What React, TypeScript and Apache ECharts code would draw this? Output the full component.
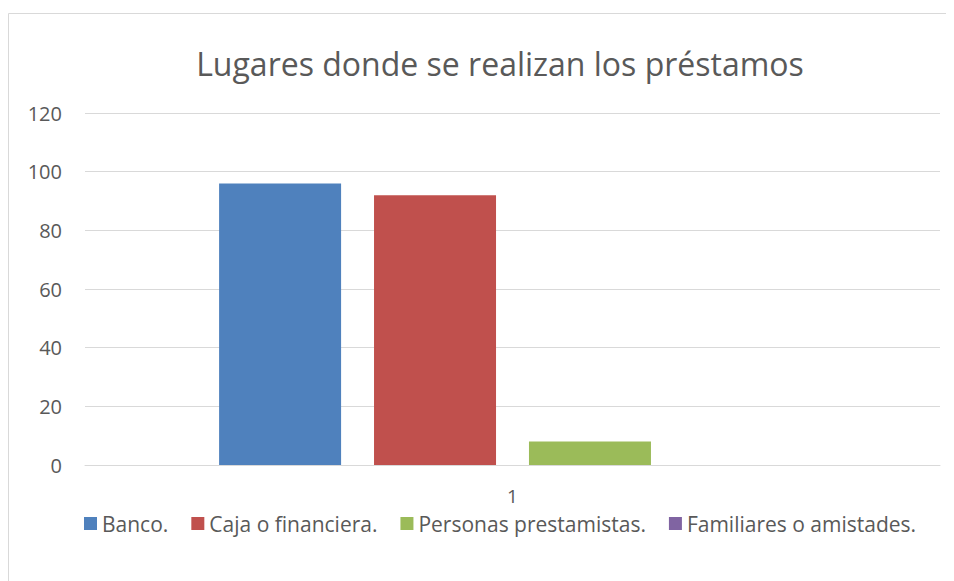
import React, { useEffect, useRef } from "react";
import * as echarts from "echarts";

const categories = ["1"];
const seriesNames = ["Banco.", "Caja o financiera.", "Personas prestamistas.", "Familiares o amistades."];
const seriesValues = [96, 92, 8, 0];
const seriesColors = ["#4f81bd", "#c0504d", "#9bbb59", "#8064a2"];
const yTicks = { min: 0, max: 120, interval: 20 };

export default function App() {
  const ref = useRef<HTMLDivElement>(null);
  useEffect(() => {
    if (!ref.current) return;
    document.documentElement.style.overflow = "hidden";
    document.body.style.overflow = "hidden";
    const chart = echarts.init(ref.current, undefined, { renderer: "svg" });
    const font = "Open Sans";
    chart.setOption({
      animation: false,
      textStyle: { fontFamily: font },
      title: {
        text: "Lugares donde se realizan los préstamos",
        left: 487,
        textAlign: "center",
        top: 34,
        textStyle: { fontFamily: font, fontSize: 32, fontWeight: "normal", color: "#595959" },
      },
      graphic: [
        {
          type: "polyline",
          shape: { points: [[0.5, 700], [0.5, 5.5], [1000, 5.5]] },
          style: { fill: "none", stroke: "#d9d9d9", lineWidth: 1 },
          silent: true,
        },
      ],
      legend: {
        top: 500,
        left: 71,
        icon: "rect",
        itemWidth: 13,
        itemHeight: 13,
        itemGap: 23,
        textStyle: { fontFamily: font, fontSize: 21, color: "#595959" },
        data: seriesNames,
      },
      grid: { left: 77, right: 24, top: 105, bottom: 116, containLabel: false },
      xAxis: {
        type: "category",
        data: categories,
        axisLine: { lineStyle: { color: "#d9d9d9", width: 1 } },
        axisTick: { show: false },
        axisLabel: { fontFamily: font, fontSize: 19, color: "#595959", margin: 21 },
      },
      yAxis: {
        type: "value",
        min: yTicks.min,
        max: yTicks.max,
        interval: yTicks.interval,
        axisLine: { show: false },
        axisTick: { show: false },
        splitLine: { lineStyle: { color: "#d9d9d9", width: 1 } },
        axisLabel: { fontFamily: font, fontSize: 20, color: "#595959", margin: 23 },
      },
      series: seriesNames.map((name, i) => ({
        name,
        type: "bar",
        data: [seriesValues[i]],
        barWidth: 122,
        barGap: "27%",
        itemStyle: { color: seriesColors[i] },
      })),
    });
    return () => chart.dispose();
  }, []);
  return <div ref={ref} style={{ width: 956, height: 573 }} />;
}
